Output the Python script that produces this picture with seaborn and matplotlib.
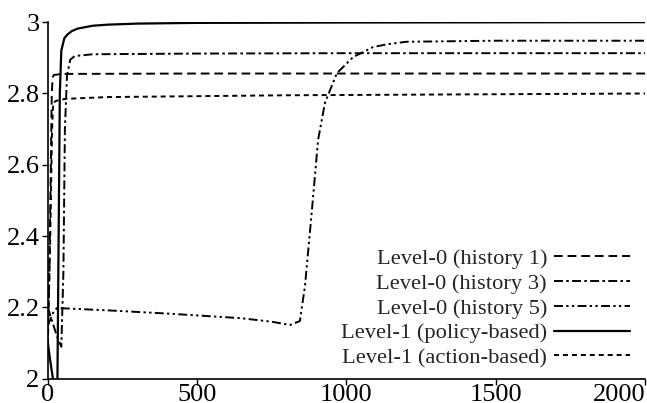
import matplotlib
matplotlib.use("Agg")
import matplotlib.pyplot as plt
import seaborn as sns
import numpy as np
import pandas as pd
from matplotlib.ticker import FormatStrFormatter

# ---- data ----
h1_x = [0, 5, 10, 13, 16, 20, 50, 100, 500, 1000, 2000]
h1_y = [2.12, 2.30, 2.60, 2.80, 2.845, 2.852, 2.855, 2.855, 2.856, 2.856, 2.856]

h3_x = [0, 15, 30, 45, 52, 57, 64, 75, 90, 150, 500, 1000, 2000]
h3_y = [2.20, 2.16, 2.12, 2.09, 2.30, 2.70, 2.85, 2.895, 2.905, 2.910, 2.912, 2.913, 2.913]

h5_x = [0, 10, 20, 30, 44, 200, 400, 647, 750, 811, 844, 861, 884, 905, 928,
        968, 1022, 1089, 1136, 1200, 1500, 2000]
h5_y = [2.15, 2.17, 2.19, 2.198, 2.198, 2.192, 2.183, 2.170, 2.160, 2.151, 2.162,
        2.26, 2.47, 2.67, 2.774, 2.857, 2.902, 2.930, 2.938, 2.945, 2.948, 2.948]

pol_x = [0, 8, 17, 25, 30, 35, 40, 45, 55, 65, 80, 100, 150, 200, 300, 500, 1000, 2000]
pol_y = [2.10, 2.05, 2.00, 1.90, 1.80, 2.30, 2.80, 2.92, 2.955, 2.965, 2.975, 2.982,
         2.990, 2.993, 2.996, 2.998, 2.999, 3.0]

act_x = [0, 8, 14, 18, 30, 60, 200, 800, 2000]
act_y = [2.10, 2.40, 2.70, 2.775, 2.78, 2.785, 2.79, 2.795, 2.80]

labels = ["Level-0 (history 1)", "Level-0 (history 3)", "Level-0 (history 5)",
          "Level-1 (policy-based)", "Level-1 (action-based)"]
x_ticks = [0, 500, 1000, 1500, 2000]
y_ticks = [2.0, 2.2, 2.4, 2.6, 2.8, 3.0]

# ---- style ----
sns.set_theme(style="ticks")
plt.rcParams["font.family"] = ["Liberation Serif", "DejaVu Serif"]
plt.rcParams["axes.edgecolor"] = "black"
plt.rcParams["xtick.color"] = "black"
plt.rcParams["ytick.color"] = "black"

fig = plt.figure(figsize=(6.47, 4.03), dpi=100)
ax = fig.add_axes([0.074, 0.06, 0.923, 0.885])

series = [(h1_x, h1_y), (h3_x, h3_y), (h5_x, h5_y), (pol_x, pol_y), (act_x, act_y)]
styles = [(0, (4.5, 2.5)),
          (0, (4.6, 1.7, 1.3, 1.7)),
          (0, (4.6, 1.7, 1.2, 1.7, 1.2, 1.7)),
          "-",
          (0, (2.6, 2.0))]
lws = [1.4, 1.4, 1.4, 1.6, 1.4]

for (xs, ys), lab, ls, lw in zip(series, labels, styles, lws):
    df = pd.DataFrame({"x": xs, "y": ys})
    sns.lineplot(data=df, x="x", y="y", ax=ax, color="black", lw=lw,
                 linestyle=ls, label=lab, estimator=None, sort=False)

ax.set_xlim(0, 2000)
ax.set_ylim(2.0, 3.0)
ax.set_xticks(x_ticks)
ax.set_yticks(y_ticks)
ax.yaxis.set_major_formatter(FormatStrFormatter("%g"))
ax.set_xlabel("")
ax.set_ylabel("")
ax.tick_params(axis="both", labelsize=19, length=4, width=1.0, direction="out")
ax.tick_params(axis="x", pad=0)
ax.tick_params(axis="y", pad=2)
sns.despine(ax=ax)
for s in ["left", "bottom"]:
    ax.spines[s].set_linewidth(1.2)
xl = ax.get_xticklabels()
xl[-1].set_horizontalalignment("right")
xl[-1].set_x(2000)

ax.legend(loc="lower right", frameon=False, markerfirst=False, fontsize=16.2,
          handlelength=3.4, handletextpad=0.3, labelspacing=0.18,
          borderaxespad=0.07, bbox_to_anchor=(0.993, 0.0))

fig.savefig("out.png", dpi=100)
